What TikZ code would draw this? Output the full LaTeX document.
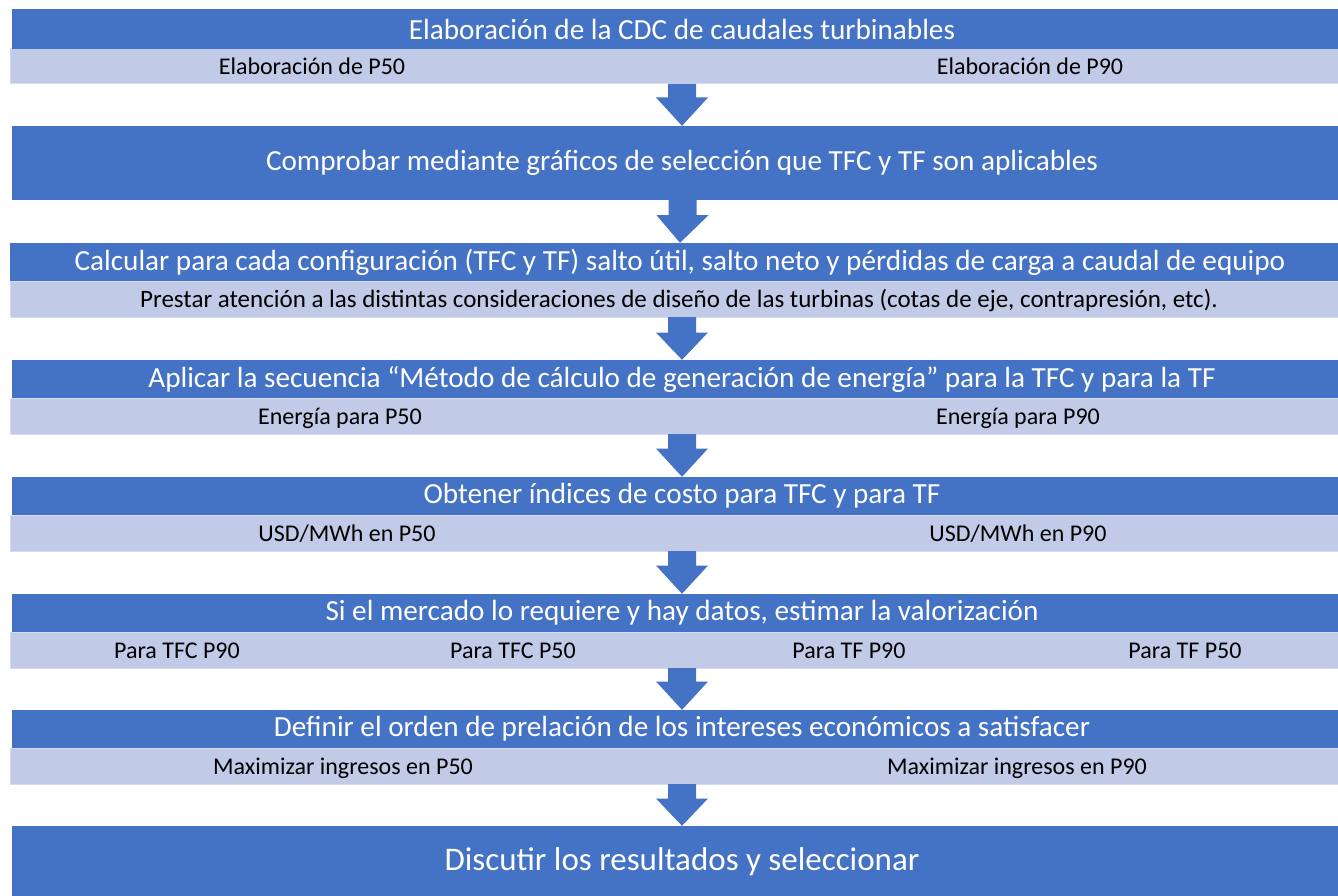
\documentclass[tikz,border=0pt]{standalone}
\usepackage{fontspec}
\setmainfont{Carlito}
\usetikzlibrary{calc}
\definecolor{darkb}{RGB}{68,114,196}
\definecolor{lightb}{RGB}{193,202,230}
\definecolor{edgeb}{RGB}{214,220,240}
\begin{document}
\begin{tikzpicture}[x=1pt,y=-1pt,
  darkband/.style={fill=darkb, draw=none, inner sep=0pt, text=white,
    minimum width=1340pt, font=\fontsize{29.2}{33}\selectfont},
  lightband/.style={fill=lightb, draw=edgeb, line width=1pt, inner sep=0pt,
    minimum width=1343pt, minimum height=36pt},
  subtext/.style={text=black, inner sep=0pt, anchor=base, font=\fontsize{24}{28}\selectfont},
  blockarrow/.style={fill=darkb, draw=none}
]
\useasboundingbox (0,0) rectangle (1338,896);
\fill[white] (0,0) rectangle (1338,896);

% light bands
\node[lightband, minimum height=35pt] (l1) at (681.5,66.5) {};
\node[lightband] (l3) at (681.5,299) {};
\node[lightband] (l4) at (681.5,416) {};
\node[lightband] (l5) at (681.5,533) {};
\node[lightband] (l6) at (681.5,650) {};
\node[lightband] (l7) at (681.5,766) {};

% dark bands
\node[darkband, minimum height=40pt] (b1) at (682,29) {Elaboración de la CDC de caudales turbinables};
\node[darkband, minimum height=74pt] (b2) at (682,163) {Comprobar mediante gráficos de selección que TFC y TF son aplicables};
\node[darkband, minimum height=38pt] (b3) at (680,262) {Calcular para cada configuración (TFC y TF) salto útil, salto neto y pérdidas de carga a caudal de equipo};
\node[darkband, minimum height=38pt] (b4) at (682,379) {Aplicar la secuencia “Método de cálculo de generación de energía” para la TFC y para la TF};
\node[darkband, minimum height=38pt] (b5) at (682,496) {Obtener índices de costo para TFC y para TF};
\node[darkband, minimum height=38pt] (b6) at (682,613) {Si el mercado lo requiere y hay datos, estimar la valorización};
\node[darkband, minimum height=38pt] (b7) at (682,729) {Definir el orden de prelación de los intereses económicos a satisfacer};
\node[darkband, minimum height=72pt, font=\fontsize{33}{37}\selectfont] (b8) at (682,862) {Discutir los resultados y seleccionar};

% sub texts
\node[subtext] (s1a) at (312,75) {Elaboración de P50};
\node[subtext] (s1b) at (1030,75) {Elaboración de P90};
\node[subtext, font=\fontsize{25}{29}\selectfont] (s3) at (679,307.5) {Prestar atención a las distintas consideraciones de diseño de las turbinas (cotas de eje, contrapresión, etc).};
\node[subtext] (s4a) at (340,424) {Energía para P50};
\node[subtext] (s4b) at (1018,424) {Energía para P90};
\node[subtext] (s5a) at (347,541) {USD/MWh en P50};
\node[subtext] (s5b) at (1018,541) {USD/MWh en P90};
\node[subtext] (s6a) at (177,658) {Para TFC P90};
\node[subtext] (s6b) at (513,658) {Para TFC P50};
\node[subtext] (s6c) at (849,658) {Para TF P90};
\node[subtext] (s6d) at (1185,658) {Para TF P50};
\node[subtext] (s7a) at (343,774) {Maximizar ingresos en P50};
\node[subtext] (s7b) at (1017,774) {Maximizar ingresos en P90};

% block arrows
\foreach \from/\to/\h in {l1/b2/13, b2/b3/15, l3/b4/15, l4/b5/14, l5/b6/14, l6/b7/13, l7/b8/14}{
  \fill[blockarrow]
    ($(\from.south)+(0.5,0)+(-14,-0.5)$) --
    ($(\from.south)+(0.5,0)+(-14,\h)$) --
    ($(\from.south)+(0.5,0)+(-26,\h)$) --
    ($(\to.north)$) --
    ($(\from.south)+(0.5,0)+(26,\h)$) --
    ($(\from.south)+(0.5,0)+(14,\h)$) --
    ($(\from.south)+(0.5,0)+(14,-0.5)$) -- cycle;
}
\end{tikzpicture}
\end{document}
